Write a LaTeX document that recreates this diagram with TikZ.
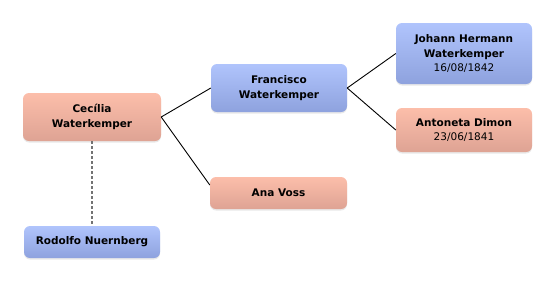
\documentclass[tikz,border=0pt]{standalone}
\usepackage{fontspec}
\setmainfont{DejaVu Sans}
\usetikzlibrary{shadows,calc}
\definecolor{salmontop}{RGB}{252,190,170}
\definecolor{salmonbot}{RGB}{222,163,148}
\definecolor{bluetop}{RGB}{176,196,252}
\definecolor{bluebot}{RGB}{142,162,222}
\tikzset{
  person/.style={rounded corners=6pt, inner sep=0pt, align=center,
    font=\fontsize{10.5}{15}\selectfont\bfseries,
    drop shadow={opacity=0.18, shadow xshift=0pt, shadow yshift=-1.5pt}},
  female/.style={person, top color=salmontop, bottom color=salmonbot},
  male/.style={person, top color=bluetop, bottom color=bluebot},
  link/.style={draw=black, line width=0.9pt},
  partner/.style={draw=black!55, line width=2pt, dash pattern=on 3pt off 2pt}
}
\newcommand{\dt}[1]{{\fontsize{10.5}{12}\mdseries #1}}
\begin{document}
\begin{tikzpicture}[x=1pt,y=-1pt]
\useasboundingbox (0,0) rectangle (556,282);
\node[female, minimum width=138pt, minimum height=48pt] (cecilia) at (92,117) {Cecília\\Waterkemper};
\node[male, minimum width=136pt, minimum height=48pt] (francisco) at (279,88) {Francisco\\Waterkemper};
\node[male, minimum width=136pt, minimum height=61pt] (johann) at (464,53.5) {Johann Hermann\\Waterkemper\\[-1pt]\dt{16/08/1842}};
\node[female, minimum width=136pt, minimum height=44pt] (antoneta) at (464,130) {Antoneta Dimon\\[-1pt]\dt{23/06/1841}};
\node[male, minimum width=136pt, minimum height=32pt] (rodolfo) at (92,242) {Rodolfo Nuernberg};
\node[female, minimum width=137pt, minimum height=32pt] (ana) at (278.5,193) {Ana Voss};
\coordinate (anain) at ($(ana.west)+(0,-8)$);
\draw[link] (cecilia.east) -- (francisco.west);
\draw[link] (cecilia.east) -- (anain);
\draw[link] (francisco.east) -- (johann.west);
\draw[link] (francisco.east) -- (antoneta.west);
\draw[partner] (cecilia.south) -- (rodolfo.north);
\end{tikzpicture}
\end{document}
